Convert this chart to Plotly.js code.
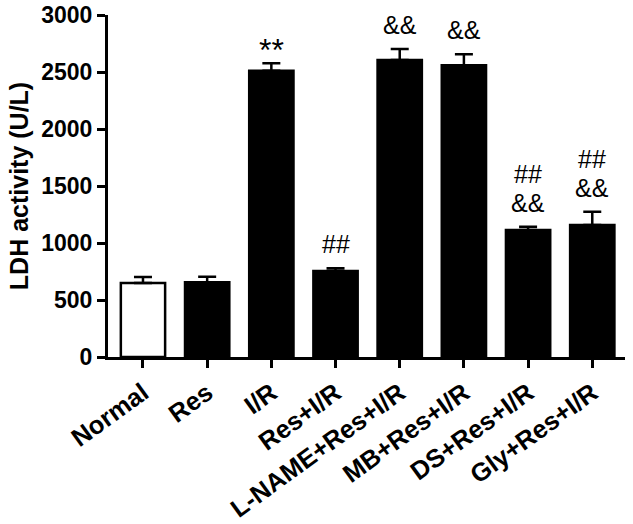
<!DOCTYPE html>
<html>
<head>
<meta charset="utf-8">
<script src="https://cdn.plot.ly/plotly-3.0.1.min.js"></script>
<style>html,body{margin:0;padding:0;background:#fff;}#chart{width:633px;height:524px;}</style>
</head>
<body>
<div id="chart"></div>
<script>
const groups = ["Normal", "Res", "I/R", "Res+I/R", "L-NAME+Res+I/R", "MB+Res+I/R", "DS+Res+I/R", "Gly+Res+I/R"];
const ldhMean = [650, 655, 2511, 754, 2605, 2559, 1114, 1158];
const ldhSem = [52, 50, 65, 24, 97, 96, 29, 117];
const sigLower = ["", "", "**", "##", "&&", "&&", "&&", "&&"];
const sigUpper = ["", "", "", "", "", "", "##", "##"];
const barFill = ["#ffffff", "#000000", "#000000", "#000000", "#000000", "#000000", "#000000", "#000000"];
const yTicks = [0, 500, 1000, 1500, 2000, 2500, 3000];

const FONT = "Liberation Sans, Arial, Helvetica, sans-serif";

const trace = {
  type: "bar",
  x: groups,
  y: ldhMean,
  marker: { color: barFill, line: { color: "#000", width: 2.5 } },
  error_y: { type: "data", symmetric: false, array: ldhSem, arrayminus: ldhSem.map(() => 0), color: "#000", thickness: 2.5, width: 9 },
  hoverinfo: "none"
};

const annotations = [];
groups.forEach((g, i) => {
  const top = ldhMean[i] + ldhSem[i];
  const isStar = sigLower[i] === "**";
  if (sigLower[i]) annotations.push({
    x: g, y: top, xref: "x", yref: "y", text: sigLower[i], showarrow: false, yanchor: "bottom",
    yshift: isStar ? -7 : 8, font: { family: FONT, size: isStar ? 32 : 25, color: "#000" }
  });
  if (sigUpper[i]) annotations.push({
    x: g, y: top, xref: "x", yref: "y", text: sigUpper[i], showarrow: false, yanchor: "bottom",
    yshift: 37, font: { family: FONT, size: 25, color: "#000" }
  });
});

const layout = {
  width: 633, height: 524,
  margin: { l: 108, r: 8, t: 15, b: 167 },
  paper_bgcolor: "#fff", plot_bgcolor: "#fff",
  showlegend: false,
  bargap: 0.31,
  font: { family: FONT, color: "#000" },
  xaxis: {
    type: "category", range: [-0.545, 7.51],
    showline: true, linewidth: 3, linecolor: "#000",
    ticks: "outside", ticklen: 8, tickwidth: 3, tickcolor: "#000",
    tickangle: -36, showgrid: false, zeroline: false,
    tickfont: { family: FONT, size: 25.5, color: "#000", weight: "bold" }
  },
  yaxis: {
    range: [0, 3000], tickvals: yTicks, ticktext: yTicks.map(String),
    showline: true, linewidth: 3, linecolor: "#000",
    ticks: "outside", ticklen: 8, tickwidth: 3, tickcolor: "#000",
    showgrid: false, zeroline: false,
    tickfont: { family: FONT, size: 23, color: "#000", weight: "bold" },
    title: { text: "LDH activity (U/L)", standoff: 6, font: { family: FONT, size: 25, color: "#000", weight: "bold" } }
  },
  annotations: annotations
};

Plotly.newPlot("chart", [trace], layout, { displayModeBar: false, staticPlot: true });
</script>
</body>
</html>
